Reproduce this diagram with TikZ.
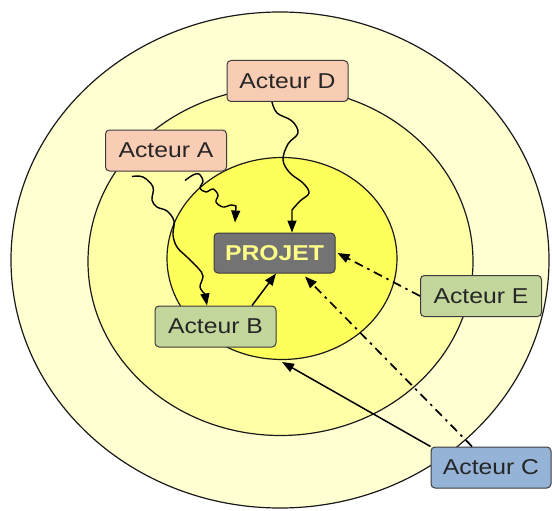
\documentclass[tikz,border=0pt]{standalone}
\usepackage{fontspec}
\setmainfont{Liberation Sans}[FakeStretch=1.15]
\usetikzlibrary{arrows.meta}

\definecolor{ringout}{HTML}{FFFFD2}
\definecolor{ringmid}{HTML}{FFFFA8}
\definecolor{ringin}{HTML}{FFFF5C}
\definecolor{salmon}{HTML}{F9CDB4}
\definecolor{sage}{HTML}{C3D69B}
\definecolor{skyblue}{HTML}{95B3D7}
\definecolor{slate}{HTML}{737373}
\definecolor{paleyellow}{HTML}{FFFF88}
\definecolor{inkline}{HTML}{1A1A1A}

\tikzset{
  ring/.style={draw=inkline, line width=1.2pt},
  actor/.style={draw=inkline!85, line width=1pt, rounded corners=4pt,
    minimum width=121pt, minimum height=41pt, inner sep=0pt,
    font=\fontsize{21.5}{24}\selectfont, text=black!85},
  link/.style={draw=black, line width=1.5pt,
    -{Triangle[length=12pt,width=9pt]}},
  wavy/.style={link, line width=1.4pt},
  dashdot/.style={link, line width=1.7pt, dash pattern=on 9pt off 5pt on 2.5pt off 5pt}
}

\begin{document}
\begin{tikzpicture}[x=1pt, y=-1pt]
  \useasboundingbox (0,0) rectangle (552,511);
  \fill[white] (0,0) rectangle (552,511);

  % concentric zones
  \draw[ring, fill=ringout] (280,260) ellipse [x radius=269, y radius=248];
  \draw[ring, fill=ringmid] (280.5,261.5) ellipse [x radius=192.5, y radius=174];
  \draw[ring, fill=ringin]  (282,258.5) ellipse [x radius=115, y radius=101];

  % actors and project
  \node[actor, fill=salmon]  (D) at (287.5,81)   {Acteur D};
  \node[actor, fill=salmon]  (A) at (166,150.5)  {Acteur A};
  \node[actor, fill=slate, text=paleyellow, font=\fontsize{21.5}{24}\selectfont\bfseries,
        minimum height=40pt] (P) at (274.5,253) {PROJET};
  \node[actor, fill=sage]    (B) at (215.5,326.5) {Acteur B};
  \node[actor, fill=sage]    (E) at (481,296)   {Acteur E};
  \node[actor, fill=skyblue, minimum width=120pt] (C) at (491,467.5) {Acteur C};

  \coordinate (cb) at (282,362);

  % informal (wavy) influences
  \draw[wavy] plot[smooth, tension=0.6] coordinates {
      ([xshift=-15.5pt]D.south) (277,113) (292,121) (298,133) (288,144)
      (283,160) (290,173) (303,183) (309,193) (300,201) (292,210)}
      -- ([xshift=17.5pt]P.north);
  \draw[wavy] plot[smooth, tension=0.6] coordinates {
      ([xshift=19pt,yshift=-9pt]A.south) (193,175) (199,174) (203,181)
      (200,188) (206,192) (213,189) (218,195) (216,202) (223,207)
      (231,205) (236,206)}
      -- ([xshift=-39.5pt,yshift=10pt]P.north);
  \draw[wavy] plot[smooth, tension=0.6] coordinates {
      ([xshift=-34pt,yshift=-5pt]A.south) (143,177) (153,187) (152,200)
      (157,207) (167,211) (174,221) (173,235) (177,247) (187,257)
      (198,268) (203,276) (200,287) (205,294)}
      -- ([xshift=-8.5pt]B.north);

  % direct links
  \draw[link] ([xshift=36.5pt]B.north) -- ([xshift=1.5pt]P.south);
  \draw[link] (C.north west) -- (cb);

  % indirect links
  \draw[dashdot] ([xshift=-19pt]C.north) -- ([xshift=30.5pt,yshift=-3pt]P.south);
  \draw[dashdot] (E.west) -- ([xshift=2pt]P.east);
\end{tikzpicture}
\end{document}
